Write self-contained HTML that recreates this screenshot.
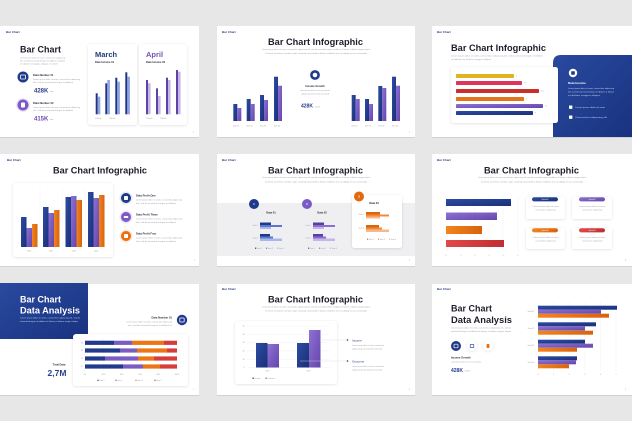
<!DOCTYPE html>
<html><head><meta charset="utf-8"><style>
html,body{margin:0;padding:0;background:#e7e7e8;}
svg{display:block;}
text{font-family:"Liberation Sans",sans-serif;}
.b{font-weight:bold;}
.lab{font-size:3px;font-weight:bold;fill:#2a3a80;}
.ttl{font-size:9.5px;font-weight:bold;fill:#1d1d2b;}
.lor{font-size:2px;fill:#a0a0aa;}
.lw{font-size:2px;fill:#c9d3ef;}
.sm{font-size:1.8px;fill:#9a9aa5;}
.hd{font-size:2.7px;font-weight:bold;fill:#2a2a38;}
.pn{font-size:2.2px;fill:#aaa;}
</style></head><body>
<svg width="632" height="421" viewBox="0 0 632 421" xmlns="http://www.w3.org/2000/svg">
<defs>
<filter id="sh" x="-20%" y="-20%" width="140%" height="140%"><feDropShadow dx="0" dy="0.6" stdDeviation="1.2" flood-color="#000" flood-opacity="0.13"/></filter>
<linearGradient id="gN" x1="0" y1="0" x2="1" y2="1"><stop offset="0" stop-color="#2c4ca3"/><stop offset="1" stop-color="#1b2f78"/></linearGradient>
<linearGradient id="gP" x1="0" y1="0" x2="1" y2="1"><stop offset="0" stop-color="#8e72d3"/><stop offset="1" stop-color="#6445ad"/></linearGradient>
<linearGradient id="gO" x1="0" y1="0" x2="1" y2="0"><stop offset="0" stop-color="#f2841d"/><stop offset="1" stop-color="#d9630d"/></linearGradient>
<linearGradient id="gR" x1="0" y1="0" x2="1" y2="0"><stop offset="0" stop-color="#e04848"/><stop offset="1" stop-color="#bf2e33"/></linearGradient>
<linearGradient id="gPanel" x1="0" y1="0" x2="1" y2="1"><stop offset="0" stop-color="#2a4aa0"/><stop offset="1" stop-color="#18327e"/></linearGradient>
</defs>

<!-- slide backgrounds -->
<g fill="#d2d2d4">
<rect x="0" y="27" width="199" height="111"/><rect x="217" y="27" width="198" height="111"/><rect x="432" y="27" width="200" height="111"/>
<rect x="0" y="155" width="199" height="112"/><rect x="217" y="155" width="198" height="112"/><rect x="432" y="155" width="200" height="112"/>
<rect x="0" y="285" width="199" height="111"/><rect x="217" y="285" width="198" height="111"/><rect x="432" y="285" width="200" height="111"/>
</g>
<g fill="#ffffff">
<rect x="0" y="26" width="199" height="111"/><rect x="217" y="26" width="198" height="111"/><rect x="432" y="26" width="200" height="111"/>
<rect x="0" y="154" width="199" height="112"/><rect x="217" y="154" width="198" height="112"/><rect x="432" y="154" width="200" height="112"/>
<rect x="0" y="284" width="199" height="111"/><rect x="217" y="284" width="198" height="111"/><rect x="432" y="284" width="200" height="111"/>
</g>

<!-- ================= SLIDE 1 ================= -->
<text class="lab" x="6" y="33">Bar Chart</text>
<text class="b" x="20" y="52.5" font-size="9" fill="#1d1d2b" textLength="41" lengthAdjust="spacingAndGlyphs">Bar Chart</text>
<text class="lor" x="20" y="58.5" textLength="45" lengthAdjust="spacingAndGlyphs">Lorem ipsum dolor sit amet, consectetur adipiscing</text>
<text class="lor" x="20" y="61.5" textLength="45" lengthAdjust="spacingAndGlyphs">elit, sed do eiusmod tempor incididunt ut labore</text>
<text class="lor" x="20" y="64.5" textLength="38" lengthAdjust="spacingAndGlyphs">et dolore magna aliqua ut enim</text>
<circle cx="23" cy="77" r="5.5" fill="#1f3a8a"/>
<rect x="20.5" y="75" width="5" height="4" rx="0.6" fill="none" stroke="#fff" stroke-width="0.8"/>
<text class="hd" x="33" y="75.8">Data Number 01</text>
<text class="lor" x="33" y="80" textLength="47" lengthAdjust="spacingAndGlyphs">Lorem ipsum dolor sit amet, consectetur adipiscing</text>
<text class="lor" x="33" y="83" textLength="40" lengthAdjust="spacingAndGlyphs">elit, sed do eiusmod tempor incididunt</text>
<text class="b" x="34" y="92.5" font-size="6" fill="#2a4090">428K</text>
<text class="sm" x="50" y="92.2">/ime</text>
<circle cx="23" cy="105" r="7" fill="#ece6f8"/>
<circle cx="23" cy="105" r="5.5" fill="#7a5cc4"/>
<rect x="21" y="102.5" width="4" height="5" rx="1" fill="#fff"/>
<text class="hd" x="33" y="103.8">Data Number 02</text>
<text class="lor" x="33" y="108" textLength="47" lengthAdjust="spacingAndGlyphs">Lorem ipsum dolor sit amet, consectetur adipiscing</text>
<text class="lor" x="33" y="111" textLength="40" lengthAdjust="spacingAndGlyphs">elit, sed do eiusmod tempor incididunt</text>
<text class="b" x="34" y="120.5" font-size="6" fill="#6a4bb0">415K</text>
<text class="sm" x="50" y="120.2">/ime</text>
<!-- March card -->
<rect x="88" y="44" width="49" height="81" rx="3" fill="#fff" filter="url(#sh)"/>
<text class="b" x="95" y="57" font-size="7.5" fill="#23397f">March</text>
<text class="b" x="95" y="63" font-size="2.6" fill="#2a2a38">Data Income 01</text>
<g>
<rect x="95.7" y="93.3" width="2" height="21" fill="#1e3583"/><rect x="97.7" y="96.7" width="2.6" height="17.6" fill="#8ea3e2"/>
<rect x="105.3" y="83.3" width="2" height="31" fill="#1e3583"/><rect x="107.3" y="80" width="2.6" height="34.3" fill="#8ea3e2"/>
<rect x="115.3" y="77.7" width="2" height="36.6" fill="#1e3583"/><rect x="117.3" y="81.7" width="2.6" height="32.6" fill="#8ea3e2"/>
<rect x="125.3" y="72.3" width="2" height="42" fill="#1e3583"/><rect x="127.3" y="76.7" width="2.6" height="37.6" fill="#8ea3e2"/>
</g>
<text class="sm" x="95" y="118.8">1 Month</text><text class="sm" x="109" y="118.8">2 Month</text>
<!-- April card -->
<rect x="139" y="44" width="48" height="81" rx="3" fill="#fff" filter="url(#sh)"/>
<text class="b" x="146" y="57" font-size="7.5" fill="#6f54b8">April</text>
<text class="b" x="146" y="63" font-size="2.6" fill="#2a2a38">Data Income 02</text>
<g>
<rect x="146" y="80" width="2" height="34.3" fill="#5e43a6"/><rect x="148" y="83.3" width="2.6" height="31" fill="#c6b6e8"/>
<rect x="156" y="88.3" width="2" height="26" fill="#5e43a6"/><rect x="158" y="96" width="2.6" height="18.3" fill="#c6b6e8"/>
<rect x="166" y="77.7" width="2" height="36.6" fill="#5e43a6"/><rect x="168" y="80" width="2.6" height="34.3" fill="#c6b6e8"/>
<rect x="176" y="70" width="2" height="44.3" fill="#5e43a6"/><rect x="178" y="71.7" width="2.6" height="42.6" fill="#c6b6e8"/>
</g>
<text class="sm" x="146" y="118.8">1 Month</text><text class="sm" x="160" y="118.8">2 Month</text>
<text class="pn" x="193" y="133">1</text>

<!-- ================= SLIDE 2 ================= -->
<text class="lab" x="222" y="33">Bar Chart</text>
<text class="ttl" x="268" y="45" textLength="95" lengthAdjust="spacingAndGlyphs">Bar Chart Infographic</text>
<text class="lor" x="262" y="49.8" textLength="108" lengthAdjust="spacingAndGlyphs">Lorem ipsum dolor sit amet, consectetur adipiscing elit, sed do eiusmod tempor incididunt ut labore et dolore magna aliqua</text>
<text class="lor" x="265" y="54.2" textLength="102" lengthAdjust="spacingAndGlyphs">Ut enim ad minim veniam, quis nostrud exercitation ullamco laboris nisi ut aliquip ex ea commodo</text>
<g>
<rect x="233.3" y="104" width="4" height="17" fill="url(#gN)"/><rect x="237.3" y="108" width="4" height="13" fill="url(#gP)"/>
<rect x="246.7" y="99" width="4" height="22" fill="url(#gN)"/><rect x="250.7" y="104" width="4" height="17" fill="url(#gP)"/>
<rect x="260" y="95" width="4" height="26" fill="url(#gN)"/><rect x="264" y="100" width="4" height="21" fill="url(#gP)"/>
<rect x="274" y="76.7" width="4" height="44.3" fill="url(#gN)"/><rect x="278" y="85.7" width="4" height="35.3" fill="url(#gP)"/>
</g>
<text class="sm" x="233" y="126.3">Item 01</text><text class="sm" x="246.5" y="126.3">Item 02</text><text class="sm" x="260" y="126.3">Item 03</text><text class="sm" x="274" y="126.3">Item 04</text>
<circle cx="315" cy="75" r="3.6" fill="none" stroke="#1f3a8a" stroke-width="2.6"/>
<text class="hd" x="315" y="87" text-anchor="middle">Income Growth</text>
<text class="lor" x="315" y="91" text-anchor="middle" textLength="30" lengthAdjust="spacingAndGlyphs">Lorem ipsum dolor sit amet, consectetur</text>
<text class="lor" x="315" y="94.5" text-anchor="middle" textLength="28" lengthAdjust="spacingAndGlyphs">adipiscing elit sed do eiusmod</text>
<text class="b" x="301" y="107.7" font-size="5" fill="#2a4090">428K</text>
<text class="sm" x="314.5" y="107.3">/month</text>
<g>
<rect x="351.7" y="95" width="4" height="26" fill="url(#gN)"/><rect x="355.7" y="99" width="4" height="22" fill="url(#gP)"/>
<rect x="365" y="99" width="4" height="22" fill="url(#gN)"/><rect x="369" y="104" width="4" height="17" fill="url(#gP)"/>
<rect x="378.3" y="86" width="4" height="35" fill="url(#gN)"/><rect x="382.3" y="88" width="4" height="33" fill="url(#gP)"/>
<rect x="392" y="76.7" width="4" height="44.3" fill="url(#gN)"/><rect x="396" y="85.7" width="4" height="35.3" fill="url(#gP)"/>
</g>
<text class="sm" x="351.5" y="126.3">Item 01</text><text class="sm" x="365" y="126.3">Item 02</text><text class="sm" x="378.3" y="126.3">Item 03</text><text class="sm" x="392" y="126.3">Item 04</text>
<text class="pn" x="409" y="133">2</text>

<!-- ================= SLIDE 3 ================= -->
<text class="lab" x="437" y="33">Bar Chart</text>
<text class="ttl" x="451" y="51" textLength="95" lengthAdjust="spacingAndGlyphs">Bar Chart Infographic</text>
<text class="lor" x="451" y="56.5" textLength="92" lengthAdjust="spacingAndGlyphs">Lorem ipsum dolor sit amet, consectetur adipiscing elit, sed do eiusmod tempor incididunt</text>
<text class="lor" x="451" y="60" textLength="40" lengthAdjust="spacingAndGlyphs">ut labore et dolore magna aliqua</text>
<path d="M553 63 Q553 55 561 55 L632 55 L632 137 L553 137 Z" fill="url(#gPanel)"/>
<rect x="451" y="67" width="107" height="56" rx="2.5" fill="#fff" filter="url(#sh)"/>
<rect x="456" y="74" width="58" height="4" rx="0.8" fill="#e3b21f"/>
<rect x="456" y="81" width="66" height="4" rx="0.8" fill="#e0355a"/>
<rect x="456" y="89" width="83" height="4" rx="0.8" fill="#c9302c"/>
<rect x="456" y="97" width="68" height="4" rx="0.8" fill="#e2741a"/>
<rect x="456" y="104" width="87" height="4" rx="0.8" fill="url(#gP)"/>
<rect x="456" y="111" width="77" height="4" rx="0.8" fill="url(#gN)"/>
<text class="sm" x="516" y="76.7">5</text><text class="sm" x="524" y="83.7">7.5</text><text class="sm" x="541" y="91.7">9.5</text><text class="sm" x="526" y="99.7">8</text><text class="sm" x="545" y="106.7">10</text><text class="sm" x="535" y="113.7">9</text>
<circle cx="573" cy="73" r="4.2" fill="#fff"/>
<rect x="571.2" y="71.3" width="3.6" height="3.4" rx="0.5" fill="#1f3a8a"/>
<text class="b" x="568" y="84" font-size="3" fill="#fff">Data Income</text>
<text class="lw" x="568" y="89" textLength="46" lengthAdjust="spacingAndGlyphs">Lorem ipsum dolor sit amet, consectetur adipiscing</text>
<text class="lw" x="568" y="92.5" textLength="46" lengthAdjust="spacingAndGlyphs">elit, sed do eiusmod tempor incididunt ut labore</text>
<text class="lw" x="568" y="96" textLength="32" lengthAdjust="spacingAndGlyphs">et dolore magna aliqua</text>
<rect x="569" y="105.5" width="3.4" height="3.4" rx="0.5" fill="#fff"/>
<text class="lw" x="575" y="108" textLength="30" lengthAdjust="spacingAndGlyphs">Lorem ipsum dolor sit amet</text>
<rect x="569" y="115.5" width="3.4" height="3.4" rx="0.5" fill="#fff"/>
<text class="lw" x="575" y="118" textLength="32" lengthAdjust="spacingAndGlyphs">Consectetur adipiscing elit</text>

<!-- ================= SLIDE 4 ================= -->
<text class="lab" x="7" y="161">Bar Chart</text>
<text class="ttl" x="53" y="173.5" textLength="94" lengthAdjust="spacingAndGlyphs">Bar Chart Infographic</text>
<rect x="13" y="183" width="100" height="74" rx="3" fill="#fff" filter="url(#sh)"/>
<g stroke="#f1f1f3" stroke-width="0.4"><line x1="40" y1="188" x2="40" y2="247"/><line x1="62.5" y1="188" x2="62.5" y2="247"/><line x1="85" y1="188" x2="85" y2="247"/></g>
<g>
<rect x="21" y="217" width="5.5" height="30" fill="url(#gN)"/><rect x="26.5" y="228" width="5.5" height="19" fill="url(#gP)"/><rect x="32" y="224" width="5.5" height="23" fill="url(#gO)"/>
<rect x="43" y="207" width="5.5" height="40" fill="url(#gN)"/><rect x="48.5" y="213" width="5.5" height="34" fill="url(#gP)"/><rect x="54" y="210" width="5.5" height="37" fill="url(#gO)"/>
<rect x="65.5" y="197" width="5.5" height="50" fill="url(#gN)"/><rect x="71" y="196" width="5.5" height="51" fill="url(#gP)"/><rect x="76.5" y="200" width="5.5" height="47" fill="url(#gO)"/>
<rect x="88" y="192" width="5.5" height="55" fill="url(#gN)"/><rect x="93.5" y="198" width="5.5" height="49" fill="url(#gP)"/><rect x="99" y="195" width="5.5" height="52" fill="url(#gO)"/>
</g>
<text class="sm" x="29" y="251.5" text-anchor="middle">2020</text><text class="sm" x="51" y="251.5" text-anchor="middle">2021</text><text class="sm" x="74" y="251.5" text-anchor="middle">2022</text><text class="sm" x="96" y="251.5" text-anchor="middle">2023</text>
<circle cx="126" cy="198" r="6.5" fill="#e6eaf5"/><circle cx="126" cy="198" r="5" fill="#1f3a8a"/><rect x="124" y="196" width="4" height="4" rx="0.8" fill="#fff"/>
<circle cx="126" cy="217" r="6.5" fill="#ece6f8"/><circle cx="126" cy="217" r="5" fill="#7a5cc4"/><rect x="123.8" y="216" width="4.4" height="2" rx="0.5" fill="#fff"/>
<circle cx="126" cy="236" r="6.5" fill="#fbe8da"/><circle cx="126" cy="236" r="5" fill="#e8700f"/><rect x="124" y="234" width="4" height="4" rx="0.8" fill="#fff"/>
<text class="hd" x="136" y="196.5">Data Profit One</text>
<text class="lor" x="136" y="200.5" textLength="46" lengthAdjust="spacingAndGlyphs">Lorem ipsum dolor sit amet, consectetur adipiscing</text>
<text class="lor" x="136" y="204" textLength="40" lengthAdjust="spacingAndGlyphs">elit, sed do eiusmod tempor incididunt</text>
<text class="hd" x="136" y="215.5">Data Profit Three</text>
<text class="lor" x="136" y="219.5" textLength="46" lengthAdjust="spacingAndGlyphs">Lorem ipsum dolor sit amet, consectetur adipiscing</text>
<text class="lor" x="136" y="223" textLength="40" lengthAdjust="spacingAndGlyphs">elit, sed do eiusmod tempor incididunt</text>
<text class="hd" x="136" y="234.5">Data Profit Four</text>
<text class="lor" x="136" y="238.5" textLength="46" lengthAdjust="spacingAndGlyphs">Lorem ipsum dolor sit amet, consectetur adipiscing</text>
<text class="lor" x="136" y="242" textLength="40" lengthAdjust="spacingAndGlyphs">elit, sed do eiusmod tempor incididunt</text>
<text class="pn" x="194" y="261">4</text>

<!-- ================= SLIDE 5 ================= -->
<text class="lab" x="222" y="161">Bar Chart</text>
<text class="ttl" x="268" y="173.5" textLength="95" lengthAdjust="spacingAndGlyphs">Bar Chart Infographic</text>
<text class="lor" x="262" y="178" textLength="108" lengthAdjust="spacingAndGlyphs">Lorem ipsum dolor sit amet, consectetur adipiscing elit, sed do eiusmod tempor incididunt ut labore et dolore magna aliqua</text>
<text class="lor" x="265" y="182.3" textLength="102" lengthAdjust="spacingAndGlyphs">Ut enim ad minim veniam, quis nostrud exercitation ullamco laboris nisi ut aliquip ex ea commodo</text>
<rect x="217" y="203" width="198" height="53" fill="#efeff1"/>
<circle cx="254" cy="204" r="5" fill="#1f3a8a"/><text x="254" y="205.1" font-size="3" fill="#fff" text-anchor="middle" class="b">1</text>
<circle cx="307" cy="204" r="5" fill="#7a5cc4"/><text x="307" y="205.1" font-size="3" fill="#fff" text-anchor="middle" class="b">2</text>
<text class="hd" x="271" y="213.5" text-anchor="middle">Data 01</text>
<text class="hd" x="322" y="213.5" text-anchor="middle">Data 02</text>
<text class="sm" x="258" y="226" text-anchor="end">Data 1</text><text class="sm" x="258" y="238.5" text-anchor="end">Data 2</text>
<rect x="260" y="222.5" width="11" height="2.5" fill="#1f3a8a"/><rect x="260" y="225" width="22" height="2" fill="#5a78d0"/><rect x="260" y="227" width="11" height="2" fill="#a8b8ea"/>
<rect x="260" y="234" width="10" height="2.5" fill="#1f3a8a"/><rect x="260" y="236.5" width="13" height="2" fill="#5a78d0"/><rect x="260" y="238.5" width="22" height="2.5" fill="#a8b8ea"/>
<rect x="255" y="247.6" width="1.2" height="1.2" fill="#1f3a8a"/><text class="sm" x="257" y="248.8">Item 1</text>
<rect x="266" y="247.6" width="1.2" height="1.2" fill="#5a78d0"/><text class="sm" x="268" y="248.8">Item 2</text>
<rect x="277" y="247.6" width="1.2" height="1.2" fill="#a8b8ea"/><text class="sm" x="279" y="248.8">Item 3</text>
<text class="sm" x="311" y="226" text-anchor="end">Data 1</text><text class="sm" x="311" y="238.5" text-anchor="end">Data 2</text>
<rect x="313" y="222.5" width="11" height="2.5" fill="#5b3ea3"/><rect x="313" y="225" width="22" height="2" fill="#8a6fd0"/><rect x="313" y="227" width="11" height="2" fill="#c5b5ea"/>
<rect x="313" y="234" width="10" height="2.5" fill="#5b3ea3"/><rect x="313" y="236.5" width="13" height="2" fill="#8a6fd0"/><rect x="313" y="238.5" width="22" height="2.5" fill="#c5b5ea"/>
<rect x="308" y="247.6" width="1.2" height="1.2" fill="#5b3ea3"/><text class="sm" x="310" y="248.8">Item 1</text>
<rect x="319" y="247.6" width="1.2" height="1.2" fill="#8a6fd0"/><text class="sm" x="321" y="248.8">Item 2</text>
<rect x="330" y="247.6" width="1.2" height="1.2" fill="#c5b5ea"/><text class="sm" x="332" y="248.8">Item 3</text>
<rect x="352" y="195" width="50" height="53" rx="2.5" fill="#fff" filter="url(#sh)"/>
<circle cx="359" cy="196.5" r="5" fill="#e2690f"/><text x="359" y="197.6" font-size="3" fill="#fff" text-anchor="middle" class="b">3</text>
<text class="hd" x="374" y="204" text-anchor="middle">Data 03</text>
<text class="sm" x="364" y="215" text-anchor="end">Data 1</text><text class="sm" x="364" y="228.5" text-anchor="end">Data 2</text>
<rect x="366" y="212" width="14" height="2.5" fill="#d9650f"/><rect x="366" y="214.5" width="23" height="2" fill="#f08a3a"/><rect x="366" y="216.5" width="14" height="2" fill="#f6b98a"/>
<rect x="366" y="225" width="13" height="2.5" fill="#d9650f"/><rect x="366" y="227.5" width="16" height="2" fill="#f08a3a"/><rect x="366" y="229.5" width="23" height="2.5" fill="#f6b98a"/>
<rect x="367" y="238.6" width="1.2" height="1.2" fill="#d9650f"/><text class="sm" x="369" y="239.8">Item 1</text>
<rect x="378" y="238.6" width="1.2" height="1.2" fill="#f08a3a"/><text class="sm" x="380" y="239.8">Item 2</text>
<rect x="389" y="238.6" width="1.2" height="1.2" fill="#f6b98a"/><text class="sm" x="391" y="239.8">Item 3</text>
<text class="pn" x="409" y="261">5</text>

<!-- ================= SLIDE 6 ================= -->
<text class="lab" x="437" y="161">Bar Chart</text>
<text class="ttl" x="484" y="173.5" textLength="95" lengthAdjust="spacingAndGlyphs">Bar Chart Infographic</text>
<text class="lor" x="478" y="178" textLength="108" lengthAdjust="spacingAndGlyphs">Lorem ipsum dolor sit amet, consectetur adipiscing elit, sed do eiusmod tempor incididunt ut labore et dolore magna aliqua</text>
<text class="lor" x="481" y="182.3" textLength="102" lengthAdjust="spacingAndGlyphs">Ut enim ad minim veniam, quis nostrud exercitation ullamco laboris nisi ut aliquip ex ea commodo</text>
<g stroke="#efeff2" stroke-width="0.4"><line x1="446" y1="195" x2="446" y2="251"/><line x1="461" y1="195" x2="461" y2="251"/><line x1="475" y1="195" x2="475" y2="251"/><line x1="489" y1="195" x2="489" y2="251"/><line x1="503" y1="195" x2="503" y2="251"/><line x1="518" y1="195" x2="518" y2="251"/></g>
<rect x="446" y="199" width="65" height="7" fill="url(#gN)"/>
<rect x="446" y="212.5" width="51" height="7.5" fill="url(#gP)"/>
<rect x="446" y="226" width="36" height="8" fill="url(#gO)"/>
<rect x="446" y="240" width="58" height="7" fill="url(#gR)"/>
<text class="sm" x="446" y="256" text-anchor="middle">0</text><text class="sm" x="461" y="256" text-anchor="middle">1</text><text class="sm" x="475" y="256" text-anchor="middle">2</text><text class="sm" x="489" y="256" text-anchor="middle">3</text><text class="sm" x="503" y="256" text-anchor="middle">4</text><text class="sm" x="518" y="256" text-anchor="middle">5</text>
<rect x="526" y="197" width="39" height="22" rx="2" fill="#fff" filter="url(#sh)"/>
<rect x="572" y="197" width="40" height="22" rx="2" fill="#fff" filter="url(#sh)"/>
<rect x="526" y="228" width="39" height="21" rx="2" fill="#fff" filter="url(#sh)"/>
<rect x="572" y="228" width="40" height="21" rx="2" fill="#fff" filter="url(#sh)"/>
<rect x="532" y="197.2" width="26" height="4.2" rx="2.1" fill="url(#gN)"/><text x="545" y="200" font-size="1.6" fill="#fff" text-anchor="middle">Option 01</text>
<rect x="579" y="197.2" width="26" height="4.2" rx="2.1" fill="url(#gP)"/><text x="592" y="200" font-size="1.6" fill="#fff" text-anchor="middle">Option 02</text>
<rect x="532" y="228.2" width="26" height="4.2" rx="2.1" fill="url(#gO)"/><text x="545" y="231" font-size="1.6" fill="#fff" text-anchor="middle">Option 03</text>
<rect x="579" y="228.2" width="26" height="4.2" rx="2.1" fill="url(#gR)"/><text x="592" y="231" font-size="1.6" fill="#fff" text-anchor="middle">Option 04</text>
<text class="lor" x="545.5" y="207" text-anchor="middle" textLength="26" lengthAdjust="spacingAndGlyphs">Lorem ipsum dolor sit amet</text>
<text class="lor" x="545.5" y="210.5" text-anchor="middle" textLength="20" lengthAdjust="spacingAndGlyphs">consectetur adipiscing</text>
<text class="lor" x="592" y="207" text-anchor="middle" textLength="26" lengthAdjust="spacingAndGlyphs">Lorem ipsum dolor sit amet</text>
<text class="lor" x="592" y="210.5" text-anchor="middle" textLength="20" lengthAdjust="spacingAndGlyphs">consectetur adipiscing</text>
<text class="lor" x="545.5" y="238" text-anchor="middle" textLength="26" lengthAdjust="spacingAndGlyphs">Lorem ipsum dolor sit amet</text>
<text class="lor" x="545.5" y="241.5" text-anchor="middle" textLength="20" lengthAdjust="spacingAndGlyphs">consectetur adipiscing</text>
<text class="lor" x="592" y="238" text-anchor="middle" textLength="26" lengthAdjust="spacingAndGlyphs">Lorem ipsum dolor sit amet</text>
<text class="lor" x="592" y="241.5" text-anchor="middle" textLength="20" lengthAdjust="spacingAndGlyphs">consectetur adipiscing</text>
<text class="pn" x="625" y="261">6</text>

<!-- ================= SLIDE 7 ================= -->
<rect x="0" y="283" width="88" height="56" fill="url(#gPanel)"/>
<text class="b" x="20" y="302.3" font-size="9" fill="#fff" textLength="41" lengthAdjust="spacingAndGlyphs">Bar Chart</text>
<text class="b" x="20" y="313.3" font-size="9" fill="#fff" textLength="60" lengthAdjust="spacingAndGlyphs">Data Analysis</text>
<text class="lw" x="20" y="318.7" textLength="60" lengthAdjust="spacingAndGlyphs">Lorem ipsum dolor sit amet, consectetur adipiscing elit, sed do</text>
<text class="lw" x="20" y="322.2" textLength="58" lengthAdjust="spacingAndGlyphs">eiusmod tempor incididunt ut labore et dolore magna aliqua</text>
<text class="hd" x="172" y="318.3" text-anchor="end">Data Number 01</text>
<text class="lor" x="172" y="322.5" text-anchor="end" textLength="46" lengthAdjust="spacingAndGlyphs">Lorem ipsum dolor sit amet, consectetur adipiscing</text>
<text class="lor" x="172" y="326" text-anchor="end" textLength="44" lengthAdjust="spacingAndGlyphs">elit, sed do eiusmod tempor incididunt ut</text>
<circle cx="182" cy="320" r="5.2" fill="#1f3a8a"/><rect x="179.8" y="318" width="4.4" height="4" rx="0.7" fill="none" stroke="#fff" stroke-width="0.8"/>
<rect x="73" y="334" width="115" height="52" rx="3" fill="#fff" filter="url(#sh)"/>
<g stroke="#f0f0f3" stroke-width="0.4"><line x1="85" y1="338" x2="85" y2="371"/><line x1="103.4" y1="338" x2="103.4" y2="371"/><line x1="121.8" y1="338" x2="121.8" y2="371"/><line x1="140.2" y1="338" x2="140.2" y2="371"/><line x1="158.6" y1="338" x2="158.6" y2="371"/><line x1="177" y1="338" x2="177" y2="371"/></g>
<g>
<rect x="85" y="340.7" width="29" height="4.2" fill="#213a8c"/><rect x="114" y="340.7" width="18" height="4.2" fill="#7a5cc4"/><rect x="132" y="340.7" width="32" height="4.2" fill="#ea7615"/><rect x="164" y="340.7" width="13" height="4.2" fill="#d63c3c"/>
<rect x="85" y="348.4" width="35" height="4.2" fill="#213a8c"/><rect x="120" y="348.4" width="17" height="4.2" fill="#7a5cc4"/><rect x="137" y="348.4" width="30" height="4.2" fill="#ea7615"/><rect x="167" y="348.4" width="10" height="4.2" fill="#d63c3c"/>
<rect x="85" y="356.4" width="20" height="4.2" fill="#213a8c"/><rect x="105" y="356.4" width="33" height="4.2" fill="#7a5cc4"/><rect x="138" y="356.4" width="16" height="4.2" fill="#ea7615"/><rect x="154" y="356.4" width="23" height="4.2" fill="#d63c3c"/>
<rect x="85" y="364.4" width="38" height="4.2" fill="#213a8c"/><rect x="123" y="364.4" width="20" height="4.2" fill="#7a5cc4"/><rect x="143" y="364.4" width="17" height="4.2" fill="#ea7615"/><rect x="160" y="364.4" width="17" height="4.2" fill="#d63c3c"/>
</g>
<text class="sm" x="83" y="343.5" text-anchor="end">04</text><text class="sm" x="83" y="351.2" text-anchor="end">03</text><text class="sm" x="83" y="359.2" text-anchor="end">02</text><text class="sm" x="83" y="367.2" text-anchor="end">01</text>
<text class="sm" x="85" y="374.8" text-anchor="middle">0%</text><text class="sm" x="103.4" y="374.8" text-anchor="middle">20%</text><text class="sm" x="121.8" y="374.8" text-anchor="middle">40%</text><text class="sm" x="140.2" y="374.8" text-anchor="middle">60%</text><text class="sm" x="158.6" y="374.8" text-anchor="middle">80%</text><text class="sm" x="177" y="374.8" text-anchor="middle">100%</text>
<circle cx="98" cy="380.3" r="0.7" fill="#213a8c"/><text class="sm" x="99.5" y="380.9">Item 1</text>
<circle cx="116" cy="380.3" r="0.7" fill="#7a5cc4"/><text class="sm" x="117.5" y="380.9">Item 2</text>
<circle cx="136" cy="380.3" r="0.7" fill="#ea7615"/><text class="sm" x="137.5" y="380.9">Item 3</text>
<circle cx="155" cy="380.3" r="0.7" fill="#d63c3c"/><text class="sm" x="156.5" y="380.9">Item 4</text>
<text class="hd" x="59" y="365.3" text-anchor="middle">Total Data</text>
<text class="b" x="57" y="375.8" font-size="8.5" fill="#2a4090" text-anchor="middle">2,7M</text>
<text class="pn" x="193" y="390">7</text>

<!-- ================= SLIDE 8 ================= -->
<text class="lab" x="222" y="290">Bar Chart</text>
<text class="ttl" x="268" y="302.5" textLength="95" lengthAdjust="spacingAndGlyphs">Bar Chart Infographic</text>
<text class="lor" x="262" y="307.3" textLength="108" lengthAdjust="spacingAndGlyphs">Lorem ipsum dolor sit amet, consectetur adipiscing elit, sed do eiusmod tempor incididunt ut labore et dolore magna aliqua</text>
<text class="lor" x="265" y="311.7" textLength="102" lengthAdjust="spacingAndGlyphs">Ut enim ad minim veniam, quis nostrud exercitation ullamco laboris nisi ut aliquip ex ea commodo</text>
<rect x="235" y="321" width="102" height="63" rx="3" fill="#fff" filter="url(#sh)"/>
<g stroke="#efeff2" stroke-width="0.4"><line x1="247" y1="326" x2="330" y2="326"/><line x1="247" y1="334.3" x2="330" y2="334.3"/><line x1="247" y1="342.6" x2="330" y2="342.6"/><line x1="247" y1="350.9" x2="330" y2="350.9"/><line x1="247" y1="359.2" x2="330" y2="359.2"/><line x1="247" y1="367.5" x2="330" y2="367.5"/></g>
<text class="sm" x="244.5" y="326.6" text-anchor="end">50</text><text class="sm" x="244.5" y="334.9" text-anchor="end">40</text><text class="sm" x="244.5" y="343.2" text-anchor="end">30</text><text class="sm" x="244.5" y="351.5" text-anchor="end">20</text><text class="sm" x="244.5" y="359.8" text-anchor="end">10</text><text class="sm" x="244.5" y="368.1" text-anchor="end">0</text>
<rect x="256" y="343" width="11.5" height="24.5" fill="url(#gN)"/>
<rect x="267.5" y="344" width="11.5" height="23.5" fill="url(#gP)"/>
<rect x="297" y="343" width="12" height="24.5" fill="url(#gN)"/>
<rect x="309" y="330" width="11.5" height="37.5" fill="url(#gP)"/>
<text class="sm" x="267.5" y="371.7" text-anchor="middle">2021</text><text class="sm" x="308.5" y="371.7" text-anchor="middle">2022</text>
<rect x="252.5" y="377.6" width="1.3" height="1.3" fill="#213a8c"/><text class="sm" x="254.5" y="378.9">Income</text>
<rect x="265.5" y="377.6" width="1.3" height="1.3" fill="#7a5cc4"/><text class="sm" x="267.5" y="378.9">Outcome</text>
<line x1="320" y1="340" x2="347" y2="340" stroke="#dcdce2" stroke-width="0.4"/>
<line x1="300" y1="361" x2="347" y2="361" stroke="#dcdce2" stroke-width="0.4"/>
<circle cx="347.5" cy="340" r="0.8" fill="#213a8c"/><circle cx="347.5" cy="361" r="0.8" fill="#213a8c"/>
<text x="352" y="341.3" font-size="3" fill="#213a8c">Income</text>
<text class="lor" x="352" y="346" textLength="32" lengthAdjust="spacingAndGlyphs">Lorem ipsum dolor sit amet, consectetur</text>
<text class="lor" x="352" y="349.5" textLength="30" lengthAdjust="spacingAndGlyphs">adipiscing elit sed do eiusmod</text>
<text x="352" y="362.3" font-size="3" fill="#213a8c">Outcome</text>
<text class="lor" x="352" y="367" textLength="32" lengthAdjust="spacingAndGlyphs">Lorem ipsum dolor sit amet, consectetur</text>
<text class="lor" x="352" y="370.5" textLength="30" lengthAdjust="spacingAndGlyphs">adipiscing elit sed do eiusmod</text>
<text class="pn" x="409" y="390">8</text>

<!-- ================= SLIDE 9 ================= -->
<text class="lab" x="437" y="290">Bar Chart</text>
<text class="b" x="451" y="311.5" font-size="9.3" fill="#1d1d2b" textLength="41" lengthAdjust="spacingAndGlyphs">Bar Chart</text>
<text class="b" x="451" y="323" font-size="9.3" fill="#1d1d2b" textLength="61" lengthAdjust="spacingAndGlyphs">Data Analysis</text>
<text class="lor" x="451" y="328.5" textLength="60" lengthAdjust="spacingAndGlyphs">Lorem ipsum dolor sit amet, consectetur adipiscing elit, sed do</text>
<text class="lor" x="451" y="332" textLength="60" lengthAdjust="spacingAndGlyphs">eiusmod tempor incididunt ut labore et dolore magna aliqua</text>
<circle cx="456" cy="346" r="5" fill="#1f3a8a"/><rect x="454" y="344.2" width="4" height="3.6" rx="0.6" fill="none" stroke="#fff" stroke-width="0.7"/>
<circle cx="472" cy="346" r="5" fill="#fff" filter="url(#sh)"/><rect x="470.2" y="344.3" width="3.6" height="3.4" rx="0.5" fill="none" stroke="#1f3a8a" stroke-width="0.6"/>
<circle cx="488" cy="346" r="5" fill="#fff" filter="url(#sh)"/><rect x="486.6" y="344" width="2.8" height="4" rx="0.5" fill="#e8700f"/>
<text class="hd" x="451" y="358.5">Income Growth</text>
<text class="lor" x="451" y="362.7" textLength="30" lengthAdjust="spacingAndGlyphs">Lorem ipsum dolor sit amet, consectetur</text>
<text class="b" x="451" y="372" font-size="5" fill="#2a4090">428K</text>
<text class="sm" x="464.5" y="371.6">/month</text>
<g stroke="#efeff2" stroke-width="0.4"><line x1="538" y1="302" x2="538" y2="371"/><line x1="553.6" y1="302" x2="553.6" y2="371"/><line x1="569.2" y1="302" x2="569.2" y2="371"/><line x1="584.8" y1="302" x2="584.8" y2="371"/><line x1="600.4" y1="302" x2="600.4" y2="371"/><line x1="616" y1="302" x2="616" y2="371"/></g>
<g>
<rect x="538" y="305.7" width="79" height="4" fill="url(#gN)"/><rect x="538" y="309.7" width="63" height="4" fill="url(#gP)"/><rect x="538" y="313.7" width="71" height="4" fill="url(#gO)"/>
<rect x="538" y="322.3" width="58" height="4" fill="url(#gN)"/><rect x="538" y="326.5" width="47" height="4" fill="url(#gP)"/><rect x="538" y="330.7" width="55" height="4" fill="url(#gO)"/>
<rect x="538" y="339.7" width="47" height="4" fill="url(#gN)"/><rect x="538" y="343.7" width="55" height="4" fill="url(#gP)"/><rect x="538" y="347.7" width="39" height="4" fill="url(#gO)"/>
<rect x="538" y="356.3" width="39" height="4" fill="url(#gN)"/><rect x="538" y="360.3" width="38" height="4" fill="url(#gP)"/><rect x="538" y="364.3" width="31" height="4" fill="url(#gO)"/>
</g>
<text class="sm" x="534" y="312.2" text-anchor="end">Data 01</text><text class="sm" x="534" y="329" text-anchor="end">Data 02</text><text class="sm" x="534" y="346.2" text-anchor="end">Data 03</text><text class="sm" x="534" y="362.8" text-anchor="end">Data 04</text>
<text class="sm" x="538" y="374.8" text-anchor="middle">0</text><text class="sm" x="553.6" y="374.8" text-anchor="middle">1</text><text class="sm" x="569.2" y="374.8" text-anchor="middle">2</text><text class="sm" x="584.8" y="374.8" text-anchor="middle">3</text><text class="sm" x="600.4" y="374.8" text-anchor="middle">4</text><text class="sm" x="616" y="374.8" text-anchor="middle">5</text>
<text class="pn" x="625" y="390">9</text>
</svg>
</body></html>
